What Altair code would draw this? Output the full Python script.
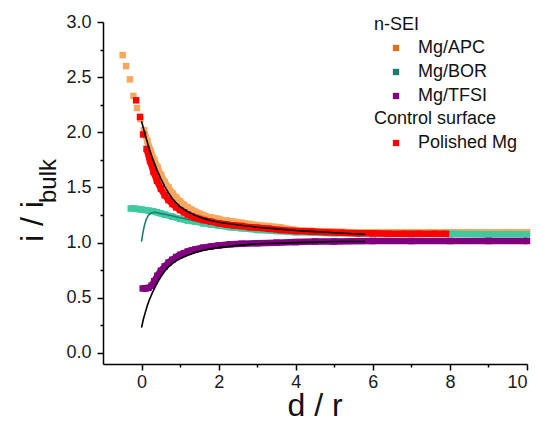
import altair as alt
import pandas as pd

# ---------------- data ----------------
# n-SEI Mg/APC
apc_d = [-0.49, -0.40, -0.30, -0.21, -0.12, -0.03, 0.06, 0.15, 0.24, 0.33, 0.42, 0.51, 0.60, 0.70,
         0.80, 0.90, 1.00, 1.10, 1.20, 1.30, 1.40, 1.50, 1.60, 1.80, 2.00, 2.20, 2.40, 2.60, 2.80,
         3.00, 3.30, 3.60, 4.00, 4.50, 5.00, 5.50, 6.00, 6.50, 7.00, 7.50, 8.00, 8.50, 9.00, 9.50, 10.00]
apc_v = [2.70, 2.60, 2.48, 2.33, 2.22, 2.12, 2.02, 1.92, 1.83, 1.75, 1.68, 1.61, 1.55, 1.50,
         1.45, 1.41, 1.375, 1.345, 1.32, 1.30, 1.28, 1.265, 1.25, 1.23, 1.215, 1.20, 1.19, 1.18, 1.17,
         1.16, 1.15, 1.14, 1.115, 1.105, 1.10, 1.095, 1.095, 1.095, 1.095, 1.095, 1.095, 1.095, 1.095, 1.095, 1.095]

# n-SEI Mg/BOR
bor_d = [-0.28, -0.20, -0.10, 0.00, 0.10, 0.20, 0.30, 0.40, 0.50, 0.60, 0.80, 1.00, 1.20, 1.40,
         1.60, 1.80, 2.00, 2.30, 2.60, 3.00, 3.50, 4.00, 4.50, 5.00, 6.00, 7.00, 8.00, 9.00, 10.00]
bor_v = [1.31, 1.31, 1.305, 1.30, 1.295, 1.29, 1.285, 1.275, 1.265, 1.255, 1.235, 1.215, 1.20, 1.19,
         1.175, 1.165, 1.155, 1.14, 1.13, 1.115, 1.105, 1.095, 1.09, 1.085, 1.08, 1.08, 1.08, 1.075, 1.075]

# n-SEI Mg/TFSI
tfsi_d = [0.03, 0.10, 0.18, 0.26, 0.33, 0.41, 0.50, 0.60, 0.70, 0.80, 0.90, 1.00, 1.10, 1.20, 1.30,
          1.40, 1.60, 1.80, 2.00, 2.30, 2.60, 3.00, 3.50, 4.00, 4.50, 5.00, 6.00, 7.00, 8.00, 9.00, 10.00]
tfsi_v = [0.585, 0.585, 0.59, 0.61, 0.65, 0.70, 0.745, 0.785, 0.82, 0.845, 0.87, 0.89, 0.905, 0.92, 0.93,
          0.94, 0.955, 0.965, 0.975, 0.985, 0.99, 0.995, 1.00, 1.005, 1.01, 1.01, 1.015, 1.015, 1.015, 1.015, 1.015]

# Control surface: polished Mg
pol_d = [-0.14, -0.04, 0.04, 0.13, 0.22, 0.31, 0.40, 0.50, 0.60, 0.70, 0.80, 0.90, 1.00, 1.10, 1.20,
         1.30, 1.40, 1.50, 1.60, 1.80, 2.00, 2.20, 2.40, 2.60, 2.80, 3.00, 3.30, 3.60, 4.00, 4.40,
         4.80, 5.20, 5.60, 6.00, 6.40, 6.80, 7.20, 7.60, 7.90]
pol_v = [2.29, 2.14, 1.98, 1.85, 1.74, 1.64, 1.56, 1.49, 1.43, 1.385, 1.35, 1.32, 1.295, 1.275, 1.255,
         1.24, 1.225, 1.215, 1.205, 1.19, 1.175, 1.165, 1.155, 1.15, 1.14, 1.135, 1.125, 1.115, 1.105, 1.10,
         1.095, 1.09, 1.085, 1.085, 1.08, 1.08, 1.08, 1.08, 1.08]

# fitted curves
fit_pos_d = [0.0, 0.1, 0.2, 0.3, 0.4, 0.5, 0.6, 0.7, 0.8, 0.9, 1.0, 1.2, 1.4, 1.6, 1.8, 2.0, 2.5,
             3.0, 3.5, 4.0, 4.5, 5.0, 5.5, 5.8]
fit_pos_v = [2.10, 1.97, 1.85, 1.75, 1.66, 1.58, 1.51, 1.45, 1.40, 1.36, 1.325, 1.28, 1.245, 1.22, 1.20,
             1.185, 1.16, 1.14, 1.125, 1.11, 1.10, 1.09, 1.08, 1.075]

fit_neg_d = [0.0, 0.05, 0.1, 0.15, 0.2, 0.3, 0.4, 0.5, 0.6, 0.7, 0.8, 0.9, 1.0, 1.2, 1.4, 1.6, 1.8,
             2.0, 2.5, 3.0, 3.5, 4.0, 4.5, 5.0, 5.8]
fit_neg_v = [0.23, 0.31, 0.37, 0.43, 0.48, 0.56, 0.63, 0.69, 0.74, 0.78, 0.81, 0.835, 0.855, 0.885,
             0.91, 0.93, 0.945, 0.955, 0.975, 0.99, 0.995, 1.0, 1.005, 1.01, 1.01]

fit_bor_d = [0.0, 0.03, 0.07, 0.12, 0.18, 0.25, 0.35, 0.5, 0.7, 1.0, 1.5, 2.0, 2.5, 3.0, 3.5, 4.0, 5.0, 5.8]
fit_bor_v = [1.01, 1.08, 1.15, 1.21, 1.25, 1.27, 1.275, 1.265, 1.25, 1.225, 1.19, 1.16, 1.14, 1.125,
             1.115, 1.105, 1.09, 1.085]

legend_headers = ["n-SEI", "Control surface"]
legend_labels = ["Mg/APC", "Mg/BOR", "Mg/TFSI", "Polished Mg"]

# ---------------- styling ----------------
FONT = "Liberation Sans"
C_APC, C_APC_KEY = "#F9A75E", "#DD7020"
C_BOR, C_BOR_KEY = "#3FC9A0", "#1C7A6C"
C_TFSI = "#800080"
C_POL = "#FF0000"
C_BOR_FIT = "#1C7D70"

xscale = alt.Scale(domain=[-1, 10], nice=False, zero=False)
yscale = alt.Scale(domain=[-0.1, 3.0], nice=False, zero=False)
X = alt.X("d:Q", scale=xscale, axis=None)
Y = alt.Y("v:Q", scale=yscale, axis=None)


def df(d, v):
    return pd.DataFrame({"d": d, "v": v})


def series(d, v, color, line_from):
    base = alt.Chart(df(d, v))
    band = base.transform_filter(alt.datum.d >= line_from).mark_line(
        color=color, strokeWidth=6.5, strokeCap="butt"
    ).encode(x=X, y=Y)
    sq = base.mark_square(size=42, color=color, opacity=1).encode(x=X, y=Y)
    return [band, sq]


def fit(d, v, color):
    return alt.Chart(df(d, v)).mark_line(color=color, strokeWidth=1.6).encode(x=X, y=Y)


axis_common = dict(
    domainColor="black", domainWidth=1.5, tickColor="black", tickWidth=1.5,
    labelFont=FONT, labelFontSize=18, labelColor="#1a1a1a", grid=False,
)

anchor = pd.DataFrame({"d": [0.0], "v": [0.0]})
major_axes = alt.Chart(anchor).mark_point(opacity=0).encode(
    x=alt.X("d:Q", scale=xscale, axis=alt.Axis(
        orient="bottom", values=[0, 2, 4, 6, 8, 10], format="d", tickSize=6, labelPadding=3,
        title="", **axis_common)),
    y=alt.Y("v:Q", scale=yscale, axis=alt.Axis(
        orient="left", values=[0, 0.5, 1.0, 1.5, 2.0, 2.5, 3.0], format=".1f", tickSize=6,
        labelPadding=6, title="", **axis_common)),
)
minor_axes = alt.Chart(anchor).mark_point(opacity=0).encode(
    x=alt.X("d:Q", scale=xscale, axis=alt.Axis(
        orient="bottom", values=[1, 3, 5, 7, 9], tickSize=3, labels=False, domain=False,
        title="", tickColor="black", tickWidth=1.5, grid=False)),
    y=alt.Y("v:Q", scale=yscale, axis=alt.Axis(
        orient="left", values=[0.25, 0.75, 1.25, 1.75, 2.25, 2.75], tickSize=3, labels=False,
        domain=False, title="", tickColor="black", tickWidth=1.5, grid=False)),
)

# x-axis title (as text so it can sit tight under the labels)
xtitle = alt.Chart(anchor).mark_text(
    text="d / r", font=FONT, fontSize=32, align="center", baseline="alphabetic", color="#111"
).encode(x=alt.value(212), y=alt.value(394))

# y-axis title with subscript
ytitle_main = alt.Chart(anchor).mark_text(
    text="i / i", font=FONT, fontSize=32, angle=270, align="left", baseline="alphabetic", color="#111"
).encode(x=alt.value(-60), y=alt.value(220))
ytitle_sub = alt.Chart(anchor).mark_text(
    text="bulk", font=FONT, fontSize=24, angle=270, align="left", baseline="alphabetic", color="#111"
).encode(x=alt.value(-47), y=alt.value(181))

# custom legend
leg_layers = []
rows = [
    ("head", legend_headers[0], None, 3),
    ("item", legend_labels[0], C_APC_KEY, 26),
    ("item", legend_labels[1], C_BOR_KEY, 50),
    ("item", legend_labels[2], C_TFSI, 74),
    ("head", legend_headers[1], None, 97),
    ("item", legend_labels[3], C_POL, 121),
]
for kind, label, color, yy in rows:
    if kind == "head":
        leg_layers.append(alt.Chart(anchor).mark_text(
            text=label, font=FONT, fontSize=18, align="left", baseline="middle", color="#111"
        ).encode(x=alt.value(271), y=alt.value(yy)))
    else:
        leg_layers.append(alt.Chart(anchor).mark_square(size=40, color=color, opacity=1).encode(
            x=alt.value(293), y=alt.value(yy)))
        leg_layers.append(alt.Chart(anchor).mark_text(
            text=label, font=FONT, fontSize=18, align="left", baseline="middle", color="#111"
        ).encode(x=alt.value(315), y=alt.value(yy)))

layers = []
layers += series(apc_d, apc_v, C_APC, 0.0)
layers += series(bor_d, bor_v, C_BOR, -1.0)
layers.append(fit(fit_bor_d, fit_bor_v, C_BOR_FIT))
layers += series(tfsi_d, tfsi_v, C_TFSI, -1.0)
layers += series(pol_d, pol_v, C_POL, 0.1)
layers.append(fit(fit_pos_d, fit_pos_v, "black"))
layers.append(fit(fit_neg_d, fit_neg_v, "black"))

chart = alt.layer(
    major_axes, minor_axes, *layers, xtitle, ytitle_main, ytitle_sub, *leg_layers
).resolve_axis(x="independent", y="independent").properties(
    width=424, height=342,
    padding={"left": 95, "top": 14, "right": 4, "bottom": 55},
    autosize=alt.AutoSizeParams(type="none"),
).configure_view(stroke=None)

chart.save("out.html", embed_options={"renderer": "svg", "actions": False})
